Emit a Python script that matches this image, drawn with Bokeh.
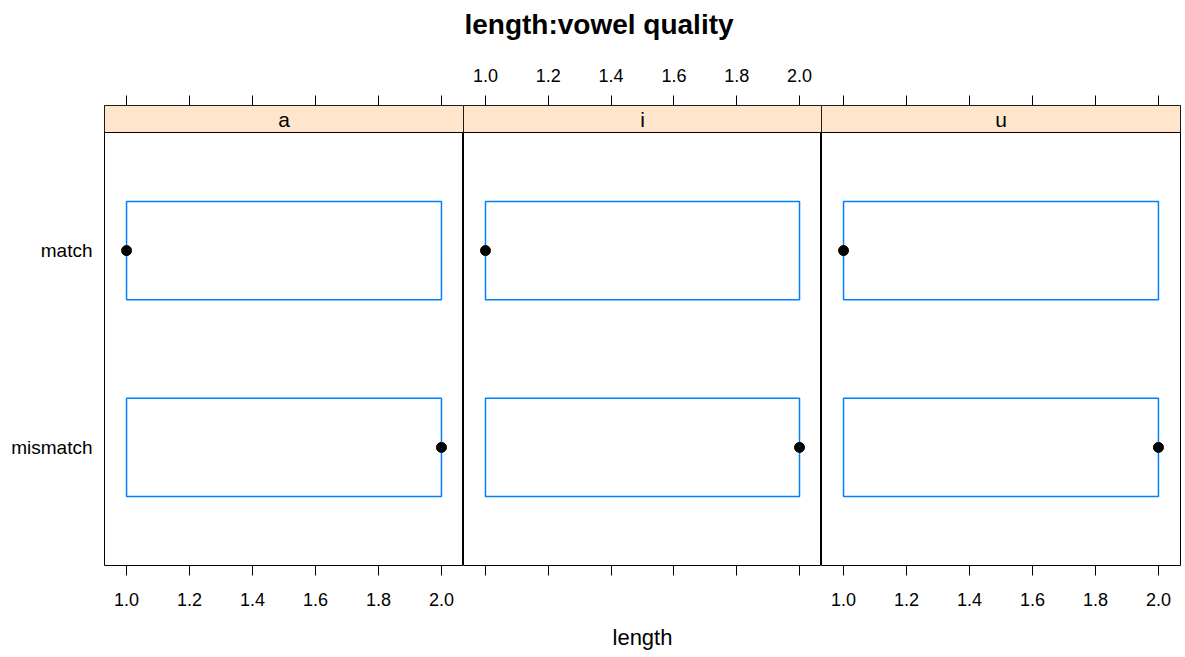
from bokeh.plotting import figure
from bokeh.layouts import gridplot, column
from bokeh.models import Range1d, FixedTicker, LinearAxis, ColumnDataSource, Div, PrintfTickFormatter
from bokeh.core.properties import value
from bokeh.embed import file_html
from bokeh.resources import INLINE

# ---- data ----
panels = ["a", "i", "u"]
groups = ["match", "mismatch"]
panel_col = ["a", "a", "i", "i", "u", "u"]
group_col = ["match", "mismatch", "match", "mismatch", "match", "mismatch"]
lower_hinge = [1.0, 1.0, 1.0, 1.0, 1.0, 1.0]
upper_hinge = [2.0, 2.0, 2.0, 2.0, 2.0, 2.0]
median = [1.0, 2.0, 1.0, 2.0, 1.0, 2.0]
x_ticks = [1.0, 1.2, 1.4, 1.6, 1.8, 2.0]
title_text = "length:vowel quality"
x_label = "length"

FONT = "Liberation Sans"
TICK_FS = "18px"
YLAB_FS = "19px"
STRIP_BG = "#FFE5CC"
BOX_COLOR = "#0080FF"

FRAME_H = 460
STRIP_PX = 27
Y_LO, Y_HI = 0.4, 2.6
unit_px = (FRAME_H - STRIP_PX) / (Y_HI - Y_LO)
strip_top = Y_LO - STRIP_PX / unit_px
X_LO, X_HI = 1.0 - 0.07, 2.0 + 0.07
frame_ws = [359, 358, 359]
label_top = [False, True, False]
label_bottom = [True, False, True]


def make_axis(show_labels, standoff):
    ax = LinearAxis(ticker=FixedTicker(ticks=x_ticks), major_tick_in=0, major_tick_out=10,
                    minor_tick_line_color=None, axis_line_color=None,
                    major_tick_line_color="black", major_tick_line_width=1,
                    formatter=PrintfTickFormatter(format="%.1f"),
                    major_label_text_font=FONT, major_label_text_font_size=TICK_FS,
                    major_label_text_color="#000000" if show_labels else None,
                    major_label_standoff=standoff)
    return ax


figs = []
for k, name in enumerate(panels):
    p = figure(frame_width=frame_ws[k], frame_height=FRAME_H,
               x_range=Range1d(X_LO, X_HI), y_range=Range1d(Y_HI, strip_top),
               x_axis_location=None, y_axis_location=None,
               min_border_left=104 if k == 0 else 0, min_border_right=3 if k == 2 else 0,
               min_border_top=55, min_border_bottom=90,
               output_backend="svg", toolbar_location=None,
               outline_line_color="black", outline_line_width=1,
               background_fill_color="white", border_fill_color="white")
    p.xgrid.visible = False
    p.ygrid.visible = False

    # strip
    p.quad(left=[X_LO], right=[X_HI], top=[strip_top], bottom=[Y_LO],
           fill_color=STRIP_BG, line_color="black", line_width=1)
    p.text(x=[(X_LO + X_HI) / 2], y=[(strip_top + Y_LO) / 2], text=[name],
           text_font=value(FONT), text_font_size="21px", text_align="center",
           text_baseline="middle", text_color="black")

    idx = [j for j, pn in enumerate(panel_col) if pn == name]
    ypos = [groups.index(group_col[j]) + 1 for j in idx]
    src = ColumnDataSource(dict(
        left=[lower_hinge[j] for j in idx], right=[upper_hinge[j] for j in idx],
        top=[y - 0.25 for y in ypos], bottom=[y + 0.25 for y in ypos],
        med=[median[j] for j in idx], y=ypos))
    p.quad(left="left", right="right", top="top", bottom="bottom", source=src,
           fill_color=None, line_color=BOX_COLOR, line_width=1.5)
    p.scatter(x="med", y="y", source=src, size=10, marker="circle",
              fill_color="black", line_color="black")

    bottom = make_axis(label_bottom[k], 17)
    top = make_axis(label_top[k], 14)
    if k == 1:
        bottom.axis_label = x_label
        bottom.axis_label_text_font = FONT
        bottom.axis_label_text_font_size = "22px"
        bottom.axis_label_text_font_style = "normal"
        bottom.axis_label_text_color = "black"
        bottom.axis_label_standoff = 49
    p.add_layout(bottom, "below")
    p.add_layout(top, "above")

    if k == 0:
        yax = LinearAxis(ticker=FixedTicker(ticks=[1, 2]),
                         major_label_overrides={1: groups[0], 2: groups[1]},
                         major_tick_in=0, major_tick_out=0, minor_tick_line_color=None,
                         axis_line_color=None, major_label_standoff=12,
                         major_label_text_font=FONT, major_label_text_font_size=YLAB_FS,
                         major_label_text_color="black")
        p.add_layout(yax, "left")
    figs.append(p)

grid = gridplot([figs], toolbar_location=None, merge_tools=False)
title = Div(text=title_text, width=1183, height=50, margin=0,
            styles={"text-align": "center", "font-family": FONT, "font-size": "28px",
                    "font-weight": "bold", "color": "black", "line-height": "50px",
                    "padding-left": "15px", "box-sizing": "border-box"})
layout = column(title, grid, spacing=0)
open("out.html", "w").write(file_html(layout, INLINE))
